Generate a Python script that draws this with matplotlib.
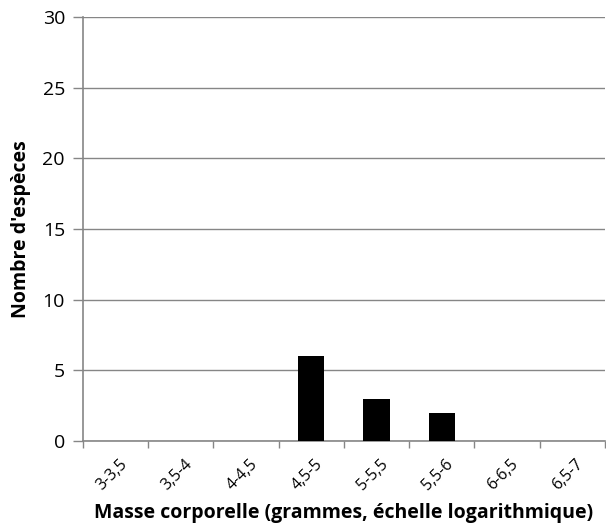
import numpy as np
import matplotlib.pyplot as plt

plt.rcParams['font.family'] = ['Open Sans', 'DejaVu Sans']

# classes de masse corporelle (log10 grammes) et nombre d'espèces
classes = ["3-3,5", "3,5-4", "4-4,5", "4,5-5", "5-5,5", "5,5-6", "6-6,5", "6,5-7"]
especes = [0, 0, 0, 6, 3, 2, 0, 0]
yticks = [0, 5, 10, 15, 20, 25, 30]

grey = "#868686"

fig = plt.figure(figsize=(6.06, 5.31), dpi=100)
ax = fig.add_axes([0.137, 0.1695, 0.861, 0.7985])

x = np.arange(len(classes))
ax.bar(x, especes, width=0.4, color="black", zorder=3)

ax.set_xlim(-0.5, len(classes) - 0.5)
ax.set_ylim(0, 30)
ax.set_yticks(yticks)
ax.yaxis.grid(True, color=grey, linewidth=1, zorder=0)
ax.tick_params(axis="y", length=7, width=1, color=grey, labelsize=14, pad=6)

# traits de graduation aux limites des classes, étiquettes au centre
ax.set_xticks(np.arange(len(classes) + 1) - 0.5)
ax.set_xticklabels([])
ax.tick_params(axis="x", which="major", length=5, width=1, color=grey)
ax.set_xticks(x + 0.05, minor=True)
ax.set_xticklabels(classes, minor=True, rotation=45, ha="right", va="top",
                   rotation_mode="anchor", fontsize=11.5)
ax.tick_params(axis="x", which="minor", length=0, pad=11)

for side in ["top", "right"]:
    ax.spines[side].set_visible(False)
ax.spines["left"].set_color(grey)
ax.spines["bottom"].set_color(grey)
ax.spines["left"].set_linewidth(1.2)
ax.spines["bottom"].set_linewidth(1.2)

ax.set_xlabel("Masse corporelle (grammes, échelle logarithmique)",
              fontsize=14, fontweight="bold", labelpad=7)
ax.set_ylabel("Nombre d'espèces", fontsize=14, fontweight="bold", labelpad=8)

fig.savefig("out.png", dpi=100)
